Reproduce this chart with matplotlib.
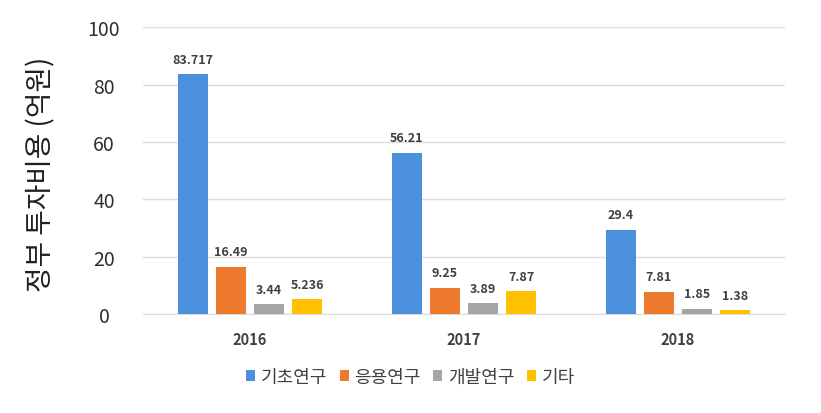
import numpy as np
import matplotlib
matplotlib.use("Agg")
import matplotlib.pyplot as plt

plt.rcParams['font.family'] = ['Noto Sans CJK KR', 'DejaVu Sans']

# data
years = ['2016', '2017', '2018']
series = ['기초연구', '응용연구', '개발연구', '기타']
basic = [83.717, 56.21, 29.4]
applied = [16.49, 9.25, 7.81]
develop = [3.44, 3.89, 1.85]
other = [5.236, 7.87, 1.38]
labels_txt = [['83.717', '56.21', '29.4'],
              ['16.49', '9.25', '7.81'],
              ['3.44', '3.89', '1.85'],
              ['5.236', '7.87', '1.38']]
colors = ['#4A90DC', '#EE7A2E', '#A5A5A5', '#FFC000']

fig = plt.figure(figsize=(8.21, 4.14), dpi=100)
ax = fig.add_axes([0.174, 0.239, 0.782, 0.693])

x = np.arange(len(years))
step = 0.178
width = 0.14
for i, vals in enumerate([basic, applied, develop, other]):
    pos = x + (i - 1.5) * step
    bars = ax.bar(pos, vals, width, color=colors[i], label=series[i], zorder=3)
    for b, t in zip(bars, labels_txt[i]):
        ax.annotate(t, (b.get_x() + b.get_width() / 2, b.get_height()),
                    xytext=(0, 6), textcoords='offset points',
                    ha='center', va='bottom', fontsize=9,
                    fontweight='bold', color='#404040')

ax.set_xlim(-0.5, 2.5)
ax.set_ylim(0, 100)
ax.set_yticks([0, 20, 40, 60, 80, 100])
ax.set_xticks(x)
ax.set_xticklabels(years, fontsize=10.5, fontweight='bold', color='#404040')
ax.tick_params(axis='x', length=0, pad=12)
ax.tick_params(axis='y', length=0, pad=28, labelsize=14, labelcolor='#303030')
for lab in ax.get_yticklabels():
    lab.set_ha('center')

ax.grid(axis='y', color='#DCDCDC', lw=1, zorder=0)
for s in ['top', 'right', 'left']:
    ax.spines[s].set_visible(False)
ax.spines['bottom'].set_color('#DCDCDC')

ax.set_ylabel('정부 투자비용 (억원)', fontsize=20, color='#202020')
ax.yaxis.set_label_coords(-0.135, 0.49)

fig.legend(loc='center', bbox_to_anchor=(0.5, 0.087), ncol=4, frameon=False,
           fontsize=13, handlelength=0.5, handleheight=0.5,
           handletextpad=0.3, columnspacing=0.7, labelcolor='#404040')

fig.savefig('out.png', dpi=100)
